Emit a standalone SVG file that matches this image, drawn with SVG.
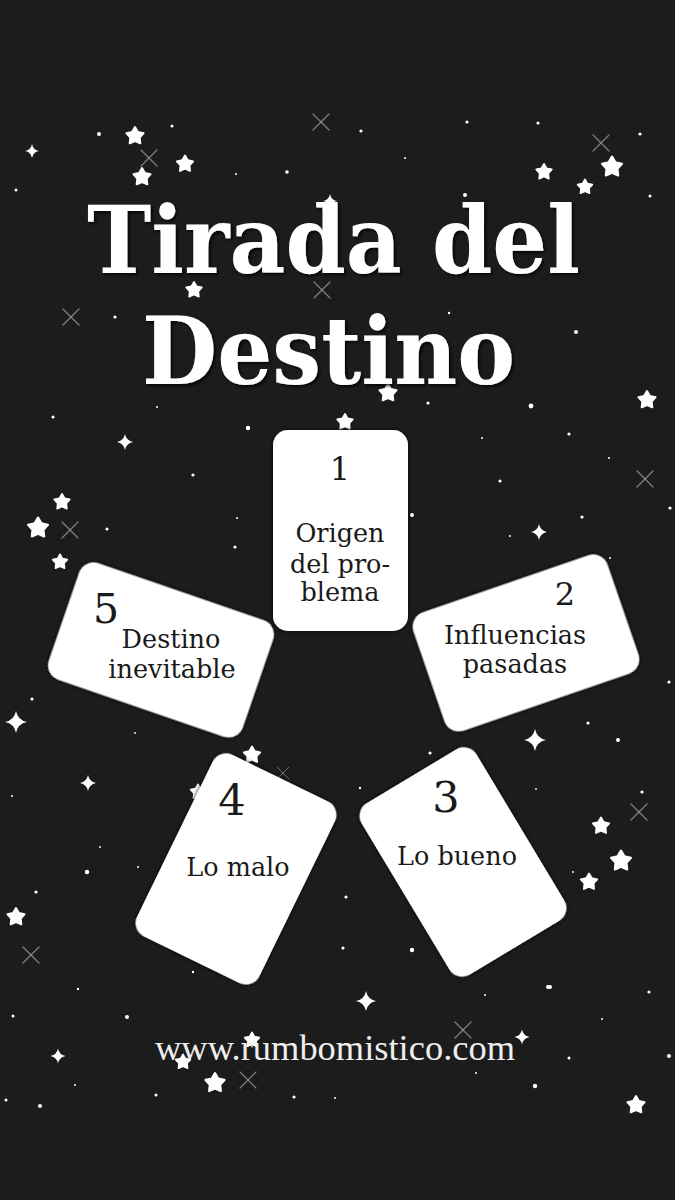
<svg xmlns="http://www.w3.org/2000/svg" xmlns:xlink="http://www.w3.org/1999/xlink" width="675" height="1200" viewBox="0 0 675 1200">
<defs>
<style>
.bg{fill:#1c1c1c}
.card{fill:#ffffff;filter:url(#sh)}
.num{font-family:"DejaVu Serif","Liberation Serif",serif;fill:#1a1a1a;text-anchor:middle}
.lbl{font-family:"DejaVu Serif","Liberation Serif",serif;font-size:25.5px;fill:#1a1a1a;text-anchor:middle}
.title{font-family:"DejaVu Serif","Liberation Serif",serif;font-weight:bold;font-size:94px;fill:#ffffff;filter:url(#tsh)}
.url{font-family:"Liberation Serif","DejaVu Serif",serif;font-size:35px;fill:#eeeeee}
.st{fill:#ffffff;stroke:#ffffff;stroke-width:2;stroke-linejoin:round}
.sp{fill:#ffffff}
.dot{fill:#ffffff}
.tw{stroke:#9a9a9a;stroke-width:1.2;stroke-linecap:round;opacity:0.8}
</style>
<filter id="sh" x="-10%" y="-10%" width="120%" height="120%">
<feDropShadow dx="0" dy="0" stdDeviation="2" flood-color="#000000" flood-opacity="0.9"/>
</filter>
<filter id="tsh" x="-5%" y="-5%" width="110%" height="120%">
<feDropShadow dx="2" dy="2" stdDeviation="1.5" flood-color="#000000" flood-opacity="0.8"/>
</filter>
<path id="star" class="st" d="M0,-9 L2.9,-4 L8.6,-2.8 L4.7,1.5 L5.3,7.3 L0,5 L-5.3,7.3 L-4.7,1.5 L-8.6,-2.8 L-2.9,-4 Z"/>
<path id="spark" class="sp" d="M0,-10 Q1.6,-1.6 10,0 Q1.6,1.6 0,10 Q-1.6,1.6 -10,0 Q-1.6,-1.6 0,-10 Z"/>
<g id="twk"><line class="tw" x1="-8" y1="-8" x2="8" y2="8"/><line class="tw" x1="8" y1="-8" x2="-8" y2="8"/></g>
</defs>
<rect class="bg" x="0" y="0" width="675" height="1200"/>

<g id="stars">
<use xlink:href="#star" transform="translate(135,136)"/>
<use xlink:href="#star" transform="translate(185,164) scale(0.95)"/>
<use xlink:href="#star" transform="translate(142,177)"/>
<use xlink:href="#star" transform="translate(612,167) scale(1.15)"/>
<use xlink:href="#star" transform="translate(544,172) scale(0.9)"/>
<use xlink:href="#star" transform="translate(585,187) scale(0.85)"/>
<use xlink:href="#star" transform="translate(194,290) scale(0.9)"/>
<use xlink:href="#star" transform="translate(388,393) scale(1.0)"/>
<use xlink:href="#star" transform="translate(647,400) scale(1.0)"/>
<use xlink:href="#star" transform="translate(345,422) scale(0.9)"/>
<use xlink:href="#star" transform="translate(62,502) scale(0.9)"/>
<use xlink:href="#star" transform="translate(38,528) scale(1.15)"/>
<use xlink:href="#star" transform="translate(60,562) scale(0.85)"/>
<use xlink:href="#star" transform="translate(252,755) scale(0.95)"/>
<use xlink:href="#star" transform="translate(198,792) scale(0.85)"/>
<use xlink:href="#star" transform="translate(601,826) scale(0.95)"/>
<use xlink:href="#star" transform="translate(621,861) scale(1.15)"/>
<use xlink:href="#star" transform="translate(589,882) scale(0.95)"/>
<use xlink:href="#star" transform="translate(16,917) scale(1.0)"/>
<use xlink:href="#star" transform="translate(252,1040) scale(0.85)"/>
<use xlink:href="#star" transform="translate(183,1062) scale(0.85)"/>
<use xlink:href="#star" transform="translate(215,1083) scale(1.1)"/>
<use xlink:href="#star" transform="translate(636,1105) scale(1.0)"/>
<use xlink:href="#spark" transform="translate(32,151) scale(0.7)"/>
<use xlink:href="#spark" transform="translate(330,201) scale(0.7)"/>
<use xlink:href="#spark" transform="translate(125,442) scale(0.8)"/>
<use xlink:href="#spark" transform="translate(539,532) scale(0.8)"/>
<use xlink:href="#spark" transform="translate(16,722) scale(1.1)"/>
<use xlink:href="#spark" transform="translate(535,740) scale(1.1)"/>
<use xlink:href="#spark" transform="translate(88,783) scale(0.8)"/>
<use xlink:href="#spark" transform="translate(366,1001) scale(1.0)"/>
<use xlink:href="#spark" transform="translate(58,1056) scale(0.75)"/>
<use xlink:href="#spark" transform="translate(522,1037) scale(0.75)"/>
<use xlink:href="#twk" transform="translate(321,122)"/>
<use xlink:href="#twk" transform="translate(149,158)"/>
<use xlink:href="#twk" transform="translate(601,143)"/>
<use xlink:href="#twk" transform="translate(322,290)"/>
<use xlink:href="#twk" transform="translate(71,317)"/>
<use xlink:href="#twk" transform="translate(70,530)"/>
<use xlink:href="#twk" transform="translate(645,479)"/>
<use xlink:href="#twk" transform="translate(283,773) scale(0.7)"/>
<use xlink:href="#twk" transform="translate(639,812)"/>
<use xlink:href="#twk" transform="translate(31,955)"/>
<use xlink:href="#twk" transform="translate(463,1030)"/>
<use xlink:href="#twk" transform="translate(248,1080)"/>
<circle class="dot" cx="99" cy="134" r="2"/>
<circle class="dot" cx="172" cy="126" r="1.5"/>
<circle class="dot" cx="236" cy="174" r="1"/>
<circle class="dot" cx="287" cy="172" r="1.8"/>
<circle class="dot" cx="361" cy="131" r="1.6"/>
<circle class="dot" cx="405" cy="158" r="1"/>
<circle class="dot" cx="467" cy="122" r="1.6"/>
<circle class="dot" cx="538" cy="123" r="1.6"/>
<circle class="dot" cx="640" cy="134" r="1.6"/>
<circle class="dot" cx="465" cy="195" r="2"/>
<circle class="dot" cx="650" cy="196" r="1.5"/>
<circle class="dot" cx="16" cy="190" r="1.5"/>
<circle class="dot" cx="115" cy="317" r="1.6"/>
<circle class="dot" cx="576" cy="332" r="2"/>
<circle class="dot" cx="449" cy="313" r="1.2"/>
<circle class="dot" cx="531" cy="406" r="2.4"/>
<circle class="dot" cx="428" cy="403" r="1.6"/>
<circle class="dot" cx="53" cy="417" r="1.6"/>
<circle class="dot" cx="157" cy="407" r="1"/>
<circle class="dot" cx="248" cy="428" r="2.2"/>
<circle class="dot" cx="193" cy="475" r="1.6"/>
<circle class="dot" cx="107" cy="529" r="1.6"/>
<circle class="dot" cx="235" cy="547" r="1.6"/>
<circle class="dot" cx="237" cy="518" r="1"/>
<circle class="dot" cx="569" cy="434" r="1.6"/>
<circle class="dot" cx="482" cy="438" r="1"/>
<circle class="dot" cx="609" cy="458" r="1"/>
<circle class="dot" cx="500" cy="481" r="1.6"/>
<circle class="dot" cx="670" cy="508" r="1.6"/>
<circle class="dot" cx="582" cy="517" r="1.6"/>
<circle class="dot" cx="412" cy="515" r="2"/>
<circle class="dot" cx="510" cy="536" r="1"/>
<circle class="dot" cx="610" cy="558" r="1"/>
<circle class="dot" cx="32" cy="699" r="1.6"/>
<circle class="dot" cx="12" cy="796" r="1"/>
<circle class="dot" cx="87" cy="872" r="2.2"/>
<circle class="dot" cx="36" cy="892" r="1.6"/>
<circle class="dot" cx="135" cy="733" r="0.9"/>
<circle class="dot" cx="100" cy="847" r="0.9"/>
<circle class="dot" cx="138" cy="867" r="1"/>
<circle class="dot" cx="588" cy="723" r="1.6"/>
<circle class="dot" cx="618" cy="740" r="2"/>
<circle class="dot" cx="642" cy="792" r="1.6"/>
<circle class="dot" cx="669" cy="682" r="1.6"/>
<circle class="dot" cx="536" cy="789" r="0.9"/>
<circle class="dot" cx="573" cy="872" r="0.9"/>
<circle class="dot" cx="430" cy="753" r="1.6"/>
<circle class="dot" cx="360" cy="788" r="1.2"/>
<circle class="dot" cx="346" cy="897" r="1.6"/>
<circle class="dot" cx="343" cy="948" r="1.6"/>
<circle class="dot" cx="412" cy="950" r="2.2"/>
<circle class="dot" cx="548" cy="987" r="2"/>
<circle class="dot" cx="193" cy="972" r="1.2"/>
<circle class="dot" cx="78" cy="989" r="1.2"/>
<circle class="dot" cx="13" cy="1016" r="1.5"/>
<circle class="dot" cx="127" cy="1017" r="2"/>
<circle class="dot" cx="75" cy="1085" r="1"/>
<circle class="dot" cx="6" cy="1100" r="1.5"/>
<circle class="dot" cx="40" cy="1106" r="2"/>
<circle class="dot" cx="156" cy="1095" r="1.5"/>
<circle class="dot" cx="294" cy="1097" r="1.6"/>
<circle class="dot" cx="335" cy="1098" r="1"/>
<circle class="dot" cx="485" cy="995" r="1"/>
<circle class="dot" cx="550" cy="987" r="2"/>
<circle class="dot" cx="649" cy="992" r="1.6"/>
<circle class="dot" cx="602" cy="1019" r="1"/>
<circle class="dot" cx="569" cy="1058" r="1.5"/>
<circle class="dot" cx="669" cy="1056" r="2"/>
<circle class="dot" cx="535" cy="1086" r="2.2"/>
<circle class="dot" cx="476" cy="1073" r="1"/>
</g>

<g id="title">
<text class="title" x="87" y="273" textLength="493" lengthAdjust="spacingAndGlyphs">Tirada del</text>
<text class="title" x="142" y="384" textLength="373" lengthAdjust="spacingAndGlyphs">Destino</text>
</g>

<g id="connectors"></g>

<g id="card1">
<rect class="card" x="273" y="430" width="135" height="201" rx="15"/>
<text class="num" x="340" y="480" font-size="32">1</text>
<text class="lbl" x="340" y="542">Origen</text>
<text class="lbl" x="340" y="573">del pro-</text>
<text class="lbl" x="340" y="601">blema</text>
</g>

<g id="card2">
<rect class="card" x="-102.5" y="-62.5" width="205" height="125" rx="15" transform="translate(526,643) rotate(-19)"/>
<text class="num" x="565" y="605" font-size="32">2</text>
<text class="lbl" x="515" y="644">Influencias</text>
<text class="lbl" x="515" y="673">pasadas</text>
</g>

<g id="card3">
<rect class="card" x="-67" y="-100" width="134" height="200" rx="15" transform="translate(463,862) rotate(-31)"/>
<text class="num" x="446" y="812" font-size="43">3</text>
<text class="lbl" x="457" y="865">Lo bueno</text>
</g>

<g id="card4">
<rect class="card" x="-68" y="-101" width="136" height="202" rx="15" transform="translate(236,869) rotate(26)"/>
<text class="num" x="232" y="815" font-size="43">4</text>
<text class="lbl" x="238" y="876">Lo malo</text>
</g>

<g id="card5">
<rect class="card" x="-102.5" y="-61.5" width="205" height="123" rx="15" transform="translate(161,650) rotate(19)"/>
<text class="num" x="106" y="623" font-size="41">5</text>
<text class="lbl" x="171" y="648">Destino</text>
<text class="lbl" x="172" y="678">inevitable</text>
</g>

<g id="footer">
<text class="url" x="155" y="1060" textLength="360" lengthAdjust="spacingAndGlyphs">www.rumbomistico.com</text>
</g>
</svg>
